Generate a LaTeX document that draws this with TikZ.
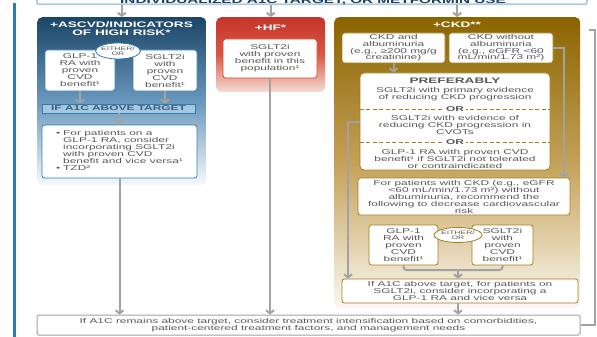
\documentclass[tikz,border=0pt]{standalone}
\usepackage{fontspec}
\setmainfont{Liberation Sans}[FakeStretch=1.7]
\usetikzlibrary{arrows.meta,shapes.geometric}
\definecolor{txt}{HTML}{585858}
\definecolor{navy}{HTML}{1C4566}
\definecolor{bluemid}{HTML}{6A97BC}
\definecolor{bluelt}{HTML}{F5F9FC}
\definecolor{blueB}{HTML}{2F7DB5}
\definecolor{bluefill}{HTML}{A6C7E0}
\definecolor{redtop}{HTML}{C5342B}
\definecolor{redmid}{HTML}{D95843}
\definecolor{redlt}{HTML}{F6DCD6}
\definecolor{redB}{HTML}{D8452F}
\definecolor{goldtop}{HTML}{8B6400}
\definecolor{goldmid}{HTML}{C4A158}
\definecolor{goldlt}{HTML}{FBF8F1}
\definecolor{goldB}{HTML}{A67D1C}
\definecolor{grayarr}{HTML}{A2A2A2}
\definecolor{stripB}{HTML}{A9CCE4}
\definecolor{stripT}{HTML}{1E3F5E}
\definecolor{barblue}{HTML}{2B7CB2}
\begin{document}
\begin{tikzpicture}[x=1pt,y=-1pt,
  tx/.style={font=\fontsize{7}{7}\selectfont, text=txt, align=center, inner sep=0pt},
  hd/.style={font=\bfseries\fontsize{8}{8}\selectfont, text=white, align=center, inner sep=0pt},
  wbox/.style={tx, draw=#1, fill=white, rounded corners=2.5pt, line width=0.8pt},
  garr/.style={draw=grayarr, line width=2pt, -{Straight Barb[length=3pt,width=8pt]}},
  gline/.style={draw=grayarr, line width=2pt},
  panel/.style={rounded corners=5pt, inner sep=0pt, anchor=north west},
  eo/.style={ellipse, draw=#1, fill=white, line width=0.8pt, inner sep=0pt},
  eot/.style={tx, font=\fontsize{5}{5.5}\selectfont},
  ortxt/.style={tx, fill=white, font=\bfseries\fontsize{7}{7}\selectfont, inner xsep=2pt},
  dashln/.style={draw=goldB, line width=1pt, dash pattern=on 4pt off 2.5pt}
]
\useasboundingbox (0,0) rectangle (597,337);

% left bar
\draw[barblue, line width=3pt] (14,3) -- (14,337);

% top strip
\node[draw=stripB, line width=1.8pt, fill=white, rounded corners=2pt, minimum width=550, minimum height=26, anchor=south west, inner sep=0pt] (strip) at (36,5.2) {};
\node[font=\bfseries\fontsize{9}{9}\selectfont, text=stripT, anchor=base, inner sep=0pt] (striptxt) at (316,3.4) {INDIVIDUALIZED A1C TARGET, OR METFORMIN USE*};

% panels
\node[panel, top color=navy, bottom color=bluelt, middle color=bluemid, minimum width=169, minimum height=168] (bluepanel) at (37,17) {};
\node[panel, top color=redtop, bottom color=redlt, middle color=redmid, minimum width=109, minimum height=75] (redpanel) at (216,17) {};
\node[panel, top color=goldtop, bottom color=goldlt, middle color=goldmid, minimum width=246, minimum height=291] (goldpanel) at (334,17) {};

\draw[garr] (strip.south -| bluepanel.north) -- (bluepanel.north);
\draw[garr] (strip.south -| redpanel.north) -- (redpanel.north);
\draw[garr] (strip.south -| goldpanel.north) -- (goldpanel.north);

% ---------- blue ----------
\node[hd] (hA) at (121.5,28.5) {+ASCVD/INDICATORS\\OF HIGH RISK*};
\node[wbox=blueB, minimum width=70, minimum height=41] (glpA) at (80,70.5) {GLP-1\\RA with\\proven\\CVD\\benefit¹};
\node[wbox=blueB, minimum width=64, minimum height=41] (sgA) at (165,70.5) {SGLT2i\\with\\proven\\CVD\\benefit¹};
\node[eo=blueB, minimum width=45, minimum height=16] (eoA) at (118,51) {};
\node[eot] (eoAt) at (eoA) {EITHER/\\OR};
\node[tx, draw=blueB, fill=bluefill, line width=0.8pt, minimum width=153, minimum height=9, font=\bfseries\fontsize{7}{7}\selectfont, text=stripT!85] (ifA) at (118.5,108.5) {IF A1C ABOVE TARGET};
\draw[garr] (glpA.south) -- (glpA.south |- ifA.north);
\draw[garr] (sgA.south) -- (sgA.south |- ifA.north);
\node[wbox=blueB, minimum width=155, minimum height=53] (bulA) at (119.5,151.5) {\begin{tabular}{@{}l@{\hspace{3pt}}l@{}}•&For patients on a\\&GLP-1 RA, consider\\&incorporating SGLT2i\\&with proven CVD\\&benefit and vice versa¹\\•&TZD²\end{tabular}};
\draw[garr] (ifA.south) -- (ifA.south |- bulA.north);

% ---------- red ----------
\node[hd] (hB) at (270.5,27.5) {+HF*};
\node[wbox=redB, minimum width=94, minimum height=39] (sgH) at (270,58.5) {SGLT2i\\with proven\\benefit in this\\population¹};

% ---------- gold ----------
\node[hd] (hC) at (457,25) {+CKD**};
\node[wbox=goldB, minimum width=103, minimum height=30, font=\fontsize{7}{6.6}\selectfont] (ckdA) at (393.5,48) {CKD and\\albuminuria\\(e.g., ≥200 mg/g\\creatinine)};
\node[wbox=goldB, minimum width=104, minimum height=30, font=\fontsize{7}{6.6}\selectfont] (ckdB) at (501,48) {CKD without\\albuminuria\\(e.g., eGFR <60\\mL/min/1.73 m²)};
\node[wbox=goldB, rounded corners=4pt, minimum width=190, minimum height=97] (pref) at (455,121.5) {};
\draw[garr] (ckdA.south) -- (ckdA.south |- pref.north);
\node[tx, font=\bfseries\fontsize{8}{8}\selectfont] (prefT) at (455,81) {PREFERABLY};
\node[tx] (p1) at (455,94) {SGLT2i with primary evidence\\of reducing CKD progression};
\coordinate (or1) at (455,109);
\draw[dashln] (pref.west |- or1) -- (pref.east |- or1);
\node[ortxt] (or1t) at (or1) {OR};
\node[tx] (p2) at (455,125) {SGLT2i with evidence of\\reducing CKD progression in\\CVOTs};
\coordinate (or2) at (455,142);
\draw[dashln] (pref.west |- or2) -- (pref.east |- or2);
\node[ortxt] (or2t) at (or2) {OR};
\node[tx] (p3) at (455,158.5) {GLP-1 RA with proven CVD\\benefit¹ if SGLT2i not tolerated\\or contraindicated};

\node[wbox=goldB, minimum width=212, minimum height=37] (forB) at (464,196.5) {For patients with CKD (e.g., eGFR\\<60 mL/min/1.73 m²) without\\albuminuria, recommend the\\following to decrease cardiovascular\\risk};
\coordinate (rc) at (564,0);
\draw[garr] (ckdB.east) -| (rc |- forB.north);

\node[wbox=goldB, minimum width=69, minimum height=40] (glpB) at (403.5,245) {GLP-1\\RA with\\proven\\CVD\\benefit¹};
\node[wbox=goldB, minimum width=61, minimum height=40] (sgB) at (502.5,245) {SGLT2i\\with\\proven\\CVD\\benefit¹};
\node[eo=goldB, minimum width=48, minimum height=15] (eoB) at (458,235) {};
\node[eot] (eoBt) at (eoB) {EITHER/\\OR};

\node[wbox=goldB, minimum width=236, minimum height=24, font=\fontsize{7}{6.8}\selectfont] (ifB) at (460,291) {If A1C above target, for patients on\\SGLT2i, consider incorporating a\\GLP-1 RA and vice versa};
\coordinate (jn) at (458,270);
\draw[gline, rounded corners=3pt] (glpB.south) |- (jn) -| (sgB.south);
\draw[garr] (jn) -- (jn |- ifB.north);
\coordinate (lc) at (348,0);
\draw[garr] (pref.west) -| (lc |- ifB.north);

% ---------- bottom ----------
\node[tx, draw=grayarr, fill=white, line width=1pt, rounded corners=1.5pt, minimum width=543, minimum height=20, font=\fontsize{7}{7.5}\selectfont] (bot) at (308.5,325) {If A1C remains above target, consider treatment intensification based on comorbidities,\\patient-centered treatment factors, and management needs};
\draw[garr] (bulA.south) -- (bulA.south |- bot.north);
\draw[garr] (sgH.south) -- (sgH.south |- bot.north);
\draw[garr] (ifB.south -| jn) -- (jn |- bot.north);
\coordinate (rt) at (589,30);
\draw[gline] (bot.east) -- ++(14,0) |- (rt);
\end{tikzpicture}
\end{document}
